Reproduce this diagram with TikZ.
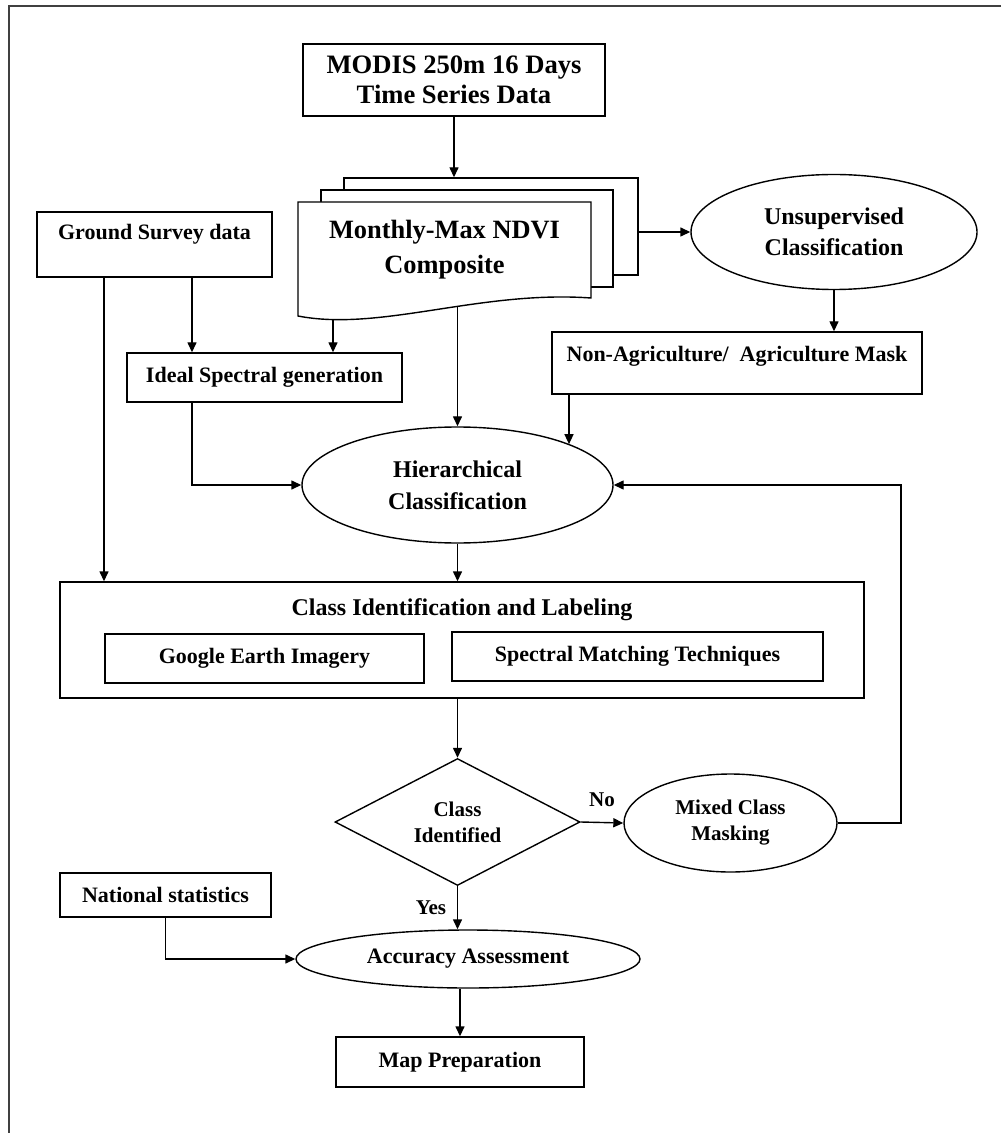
\documentclass[tikz,border=0pt]{standalone}
\usepackage{fontspec}
\setmainfont{Liberation Serif}
\usepackage{tikz}
\usetikzlibrary{shapes.geometric, arrows.meta, positioning, calc, backgrounds}
\newcommand{\fsbig}{\fontsize{13.3}{15}\selectfont\bfseries}
\newcommand{\fsmid}{\fontsize{12}{16}\selectfont\bfseries}
\newcommand{\fsbody}{\fontsize{11}{13}\selectfont\bfseries}
\newcommand{\fssmall}{\fontsize{10.5}{13}\selectfont\bfseries}
\tikzset{
    box/.style={rectangle, draw, line width=0.7pt, align=center, font=\fsbody, inner sep=2pt},
    oval/.style={ellipse, draw, line width=0.7pt, align=center, inner sep=1pt},
    sheet/.style={rectangle, draw, line width=0.7pt, fill=white},
    arrow/.style={line width=0.7pt, -{Triangle[length=5pt,width=4.5pt]}}
}
\begin{document}
\begin{tikzpicture}[x=0.5pt, y=-0.5pt, font=\fsbody]
    \useasboundingbox (0,0) rectangle (1001,1133);
    \draw [line width=1pt, black!75] (1001,6) -- (9,6) -- (9,1133);

    \node (modis) [box, font=\fsbig, minimum width=151pt, minimum height=36pt] at (454,80) {MODIS 250m 16 Days\\Time Series Data};
    \node (ndvi) [font=\fontsize{13.2}{17.5}\selectfont\bfseries, align=center, minimum width=146.5pt, minimum height=48pt, inner sep=0pt, outer sep=0pt] at (444.5,250) {Monthly-Max NDVI\\Composite};
    \begin{scope}[on background layer]
        \node (ndvib) [sheet, minimum width=147pt, minimum height=48.5pt] at (491,226.5) {};
        \node (ndvim) [sheet, minimum width=146pt, minimum height=48.5pt] at (467,238.5) {};
        \draw [line width=0.7pt, fill=white] (ndvi.north west) -- (ndvi.north east) -- (ndvi.south east)
            .. controls +(-111,-8) and +(82,16) .. ($(ndvi.south west)+(0,18)$) -- cycle;
    \end{scope}
    \node (unsup) [oval, font=\fontsize{12}{15.5}\selectfont\bfseries, minimum width=143pt, minimum height=57.5pt] at (834,232) {Unsupervised\\Classification};
    \node (ground) [box, minimum width=117.5pt, minimum height=32.5pt] at (154.5,244.5) {Ground Survey data\\\mbox{}};
    \node (ideal) [box, minimum width=137.5pt, minimum height=24.5pt] at (264.5,377.5) {Ideal Spectral generation};
    \node (nonag) [box, minimum width=185pt, minimum height=31pt] at (737,363) {Non-Agriculture/\ \ Agriculture Mask\\[-4pt]\mbox{}};
    \node (hier) [oval, font=\fsmid, minimum width=155.5pt, minimum height=58pt] at (457.5,485) {Hierarchical\\Classification};
    \node (classbox) [box, minimum width=402pt, minimum height=58pt] at (462,640) {};
    \node (classtitle) [font=\fsmid, below=5pt of classbox.north] {Class Identification and Labeling};
    \node (google) [box, minimum width=159.5pt, minimum height=24.5pt] at (264.5,658.5) {Google Earth Imagery};
    \node (spectral) [box, minimum width=185.5pt, minimum height=24.5pt] at (637.5,656.5) {Spectral Matching Techniques};
    \node (decision) [diamond, draw, line width=0.7pt, align=center, font=\fssmall, aspect=2, inner sep=0pt, minimum width=122.5pt, minimum height=63.5pt] at (457.5,822) {Class\\Identified};
    \node (mixed) [oval, font=\fssmall, minimum width=106.5pt, minimum height=49pt] at (730.5,823) {Mixed Class\\Masking};
    \node (national) [box, minimum width=105.5pt, minimum height=22pt] at (165.5,895) {National statistics};
    \node (accuracy) [oval, minimum width=172pt, minimum height=29pt] at (468,959) {Accuracy Assessment};
    \node (mapprep) [box, minimum width=124pt, minimum height=25pt] at (460,1062) {Map Preparation};
    \coordinate (ndviout) at ($(ndvi.south west)+(35,22)$);
    \coordinate (ndvimid) at ($(hier.north |- ndvi.south)+(0,9)$);
    \coordinate (loopback) at (901,485);

    \draw [arrow] (modis.south) -- (modis.south |- ndvib.north);
    \draw [arrow] (ndvib.east |- unsup.west) -- (unsup.west);
    \draw [arrow] (unsup.south) -- (unsup.south |- nonag.north);
    \draw [arrow] ([xshift=18.75pt]ground.south) -- ([xshift=18.75pt]ground.south |- ideal.north);
    \draw [arrow] ([xshift=-25.25pt]ground.south) -- ([xshift=-25.25pt]ground.south |- classbox.north);
    \draw [arrow] (ndviout) -- (ndviout |- ideal.north);
    \draw [arrow] (ndvimid) -- (hier.north);
    \draw [arrow] ([xshift=-36.25pt]ideal.south) |- (hier.west);
    \draw [arrow] ([xshift=-84pt]nonag.south) -- ([xshift=-84pt]nonag.south |- hier.20);
    \draw [arrow] (hier.south) -- (hier.south |- classbox.north);
    \draw [arrow] (classbox.south -| decision.north) -- (decision.north);
    \draw [arrow] (decision.east) -- node[above=4pt, font=\fssmall] (nolbl) {No} (mixed.west);
    \draw [arrow] (mixed.east) -| (loopback) -- (hier.east);
    \draw [arrow] (decision.south) -- node[left=2pt, font=\fssmall] (yeslbl) {Yes} (decision.south |- accuracy.north);
    \draw [arrow] (national.south) |- (accuracy.west);
    \draw [arrow] (mapprep.north |- accuracy.south) -- (mapprep.north);
\end{tikzpicture}
\end{document}
